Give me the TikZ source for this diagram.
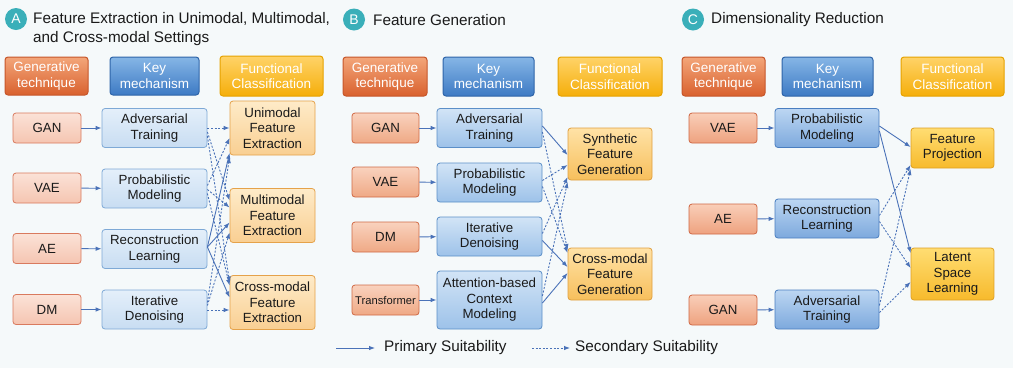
\documentclass[tikz,border=0pt]{standalone}
\usepackage{fontspec}
\setmainfont{Liberation Sans}
\usetikzlibrary{arrows.meta,calc}
\definecolor{bgc}{HTML}{F5F9FA}
\definecolor{arr}{HTML}{4A72B8}
\definecolor{teal}{HTML}{3AAFB9}
\definecolor{txt}{HTML}{1A1A1A}
\tikzset{
  box/.style={rounded corners=3pt, line width=0.8pt, align=center, inner sep=0pt, text=txt,
    font=\fontsize{13.3}{15.5}\selectfont},
  hdr/.style={box, text=white, line width=1pt, minimum height=38pt, font=\fontsize{13.5}{15.5}\selectfont},
  hO/.style={hdr, top color=hOt, bottom color=hOb, draw=hOd},
  hB/.style={hdr, top color=hBt, bottom color=hBb, draw=hBd},
  hY/.style={hdr, top color=hYt, bottom color=hYb, draw=hYd},
  techA/.style={box, minimum width=68pt, minimum height=30pt, top color=tAt, bottom color=tAb, draw=tAd},
  mechA/.style={box, minimum width=105pt, minimum height=39pt, top color=mAt, bottom color=mAb, draw=mAd},
  outA/.style={box, minimum width=85pt, minimum height=54pt, top color=oAt, bottom color=oAb, draw=oAd},
  techB/.style={box, minimum width=67pt, minimum height=30pt, top color=tBt, bottom color=tBb, draw=tBd},
  mechB/.style={box, minimum width=105pt, minimum height=39pt, top color=mBt, bottom color=mBb, draw=mBd},
  outB/.style={box, minimum width=84pt, minimum height=52pt, top color=oBt, bottom color=oBb, draw=oBd},
  techC/.style={box, minimum width=68pt, minimum height=30pt, top color=tCt, bottom color=tCb, draw=tCd},
  mechC/.style={box, minimum width=104pt, minimum height=39pt, top color=mCt, bottom color=mCb, draw=mCd},
  outC/.style={box, minimum width=83pt, minimum height=52pt, top color=oCt, bottom color=oCb, draw=oCd},
  badge/.style={circle, fill=teal, text=white, minimum size=22pt, inner sep=0pt, font=\fontsize{14}{14}\selectfont},
  ttl/.style={anchor=west, align=left, inner sep=0pt, text=txt, font=\fontsize{15.3}{18.5}\selectfont},
  pri/.style={draw=arr, line width=0.9pt, -{Latex[length=6pt,width=4.5pt]}},
  sec/.style={draw=arr, line width=0.9pt, dash pattern=on 2pt off 1.6pt, -{Latex[length=6pt,width=4.5pt]}},
  leg/.style={anchor=west, inner sep=0pt, text=txt, font=\fontsize{15.3}{17}\selectfont}
}
\definecolor{hOt}{HTML}{F3A67A}\definecolor{hOb}{HTML}{D9612E}\definecolor{hOd}{HTML}{C6562A}
\definecolor{hBt}{HTML}{86B6E6}\definecolor{hBb}{HTML}{3D7AC4}\definecolor{hBd}{HTML}{2E64A8}
\definecolor{hYt}{HTML}{FFD368}\definecolor{hYb}{HTML}{F5AE0A}\definecolor{hYd}{HTML}{E6A200}
\definecolor{tAt}{HTML}{FBE2D7}\definecolor{tAb}{HTML}{F5C5B1}\definecolor{tAd}{HTML}{D97A5E}
\definecolor{mAt}{HTML}{E4EFFA}\definecolor{mAb}{HTML}{C8DDF2}\definecolor{mAd}{HTML}{7EA9D6}
\definecolor{oAt}{HTML}{FEEBC8}\definecolor{oAb}{HTML}{F9CF92}\definecolor{oAd}{HTML}{E5A24A}
\definecolor{tBt}{HTML}{F9D2BE}\definecolor{tBb}{HTML}{EFA985}\definecolor{tBd}{HTML}{D06A45}
\definecolor{mBt}{HTML}{D2E4F6}\definecolor{mBb}{HTML}{9DC2E9}\definecolor{mBd}{HTML}{5B8FC8}
\definecolor{oBt}{HTML}{FFE2A6}\definecolor{oBb}{HTML}{F7BF5C}\definecolor{oBd}{HTML}{E0A040}
\definecolor{tCt}{HTML}{F9CEB8}\definecolor{tCb}{HTML}{EEA27F}\definecolor{tCd}{HTML}{CF6844}
\definecolor{mCt}{HTML}{BCD6F2}\definecolor{mCb}{HTML}{7DA9DD}\definecolor{mCd}{HTML}{4A7EC0}
\definecolor{oCt}{HTML}{FFDD72}\definecolor{oCb}{HTML}{F7BA2C}\definecolor{oCd}{HTML}{DFA022}
\begin{document}
\begin{tikzpicture}[x=1pt,y=-1pt]
\fill[bgc] (0,0) rectangle (1013,368);
\useasboundingbox (0,0) rectangle (1013,368);

% ---------------- Panel A ----------------
\node[badge] (bA) at (16,19) {A};
\node[ttl] (tA) at (33,29) {Feature Extraction in Unimodal, Multimodal,\\and Cross-modal Settings};
\node[hO, minimum width=83pt] (hA1) at (46.5,76) {Generative\\technique};
\node[hB, minimum width=89pt] (hA2) at (154.5,76) {Key\\mechanism};
\node[hY, minimum width=103pt, minimum height=40pt] (hA3) at (271.5,76) {Functional\\Classification};

\node[techA] (aGAN) at (47,128) {GAN};
\node[techA] (aVAE) at (47,188) {VAE};
\node[techA] (aAE)  at (47,248.5) {AE};
\node[techA] (aDM)  at (47,309.5) {DM};
\node[mechA] (aAdv) at (154.5,128) {Adversarial\\Training};
\node[mechA] (aPro) at (154.5,188.5) {Probabilistic\\Modeling};
\node[mechA] (aRec) at (154.5,249) {Reconstruction\\Learning};
\node[mechA] (aIte) at (154.5,309.5) {Iterative\\Denoising};
\node[outA] (aUni) at (272.5,128) {Unimodal\\Feature\\Extraction};
\node[outA] (aMul) at (272.5,215.5) {Multimodal\\Feature\\Extraction};
\node[outA] (aCro) at (272.5,302.5) {Cross-modal\\Feature\\Extraction};

\draw[pri] (aGAN) -- (aAdv);
\draw[pri] (aVAE) -- (aPro);
\draw[pri] (aAE) -- (aRec);
\draw[pri] (aDM) -- (aIte);

\draw[sec] (aAdv.east) -- (aUni.west);
\draw[sec] ($(aAdv.east)+(0,4)$) -- ($(aMul.west)+(0,-15)$);
\draw[sec] ($(aAdv.east)+(0,8)$) -- ($(aCro.west)+(0,-20)$);
\draw[sec] ($(aPro.east)+(0,-3)$) -- ($(aUni.west)+(0,10)$);
\draw[sec] ($(aPro.east)+(0,1)$) -- ($(aMul.west)+(0,-8)$);
\draw[sec] ($(aPro.east)+(0,5)$) -- ($(aCro.west)+(0,-17)$);
\draw[pri] ($(aRec.east)+(0,-2)$) -- ($(aUni.west)+(0,25)$);
\draw[pri] ($(aRec.east)+(0,-2)$) -- ($(aMul.west)+(0,7)$);
\draw[pri] ($(aRec.east)+(0,-2)$) -- ($(aCro.west)+(0,-5)$);
\draw[sec] ($(aIte.east)+(0,-7)$) -- ($(aUni.west)+(0,29)$);
\draw[sec] ($(aIte.east)+(0,-4)$) -- ($(aMul.west)+(0,17)$);
\draw[sec] ($(aIte.east)+(0,0.5)$) -- ($(aCro.west)+(0,7.5)$);

% ---------------- Panel B ----------------
\node[badge] (bB) at (354,19.5) {B};
\node[ttl] (tB) at (373,20) {Feature Generation};
\node[hO, minimum width=84pt, minimum height=39pt] (hB1) at (385,76.5) {Generative\\technique};
\node[hB, minimum width=91pt, minimum height=39pt] (hB2) at (488.5,76.5) {Key\\mechanism};
\node[hY, minimum width=104pt, minimum height=39pt] (hB3) at (610,76.5) {Functional\\Classification};

\node[techB] (bGAN) at (385.5,128) {GAN};
\node[techB] (bVAE) at (385.5,182) {VAE};
\node[techB] (bDM)  at (385.5,237) {DM};
\node[techB, font=\fontsize{11.2}{13}\selectfont] (bTra) at (385.5,300) {Transformer};
\node[mechB] (bAdv) at (489.5,128) {Adversarial\\Training};
\node[mechB] (bPro) at (489.5,182.5) {Probabilistic\\Modeling};
\node[mechB] (bIte) at (489.5,236.5) {Iterative\\Denoising};
\node[mechB, minimum height=58pt] (bAtt) at (489.5,300) {Attention-based\\Context\\Modeling};
\node[outB] (bSyn) at (610,154) {Synthetic\\Feature\\Generation};
\node[outB] (bCro) at (610,274) {Cross-modal\\Feature\\Generation};

\draw[pri] (bGAN) -- (bAdv);
\draw[pri] (bVAE) -- (bPro);
\draw[pri] (bDM) -- (bIte);
\draw[pri] (bTra) -- (bAtt);

\draw[pri] ($(bAdv.east)+(0,-2)$) -- ($(bSyn.west)+(0,1)$);
\draw[sec] ($(bAdv.east)+(0,4)$) -- ($(bCro.west)+(0,-24)$);
\draw[sec] ($(bPro.east)+(0,-2)$) -- ($(bSyn.west)+(0,11)$);
\draw[sec] ($(bPro.east)+(0,4)$) -- ($(bCro.west)+(0,-21)$);
\draw[sec] ($(bIte.east)+(0,-3)$) -- ($(bSyn.west)+(0,23)$);
\draw[pri] ($(bIte.east)+(0,4)$) -- ($(bCro.west)+(0,-7)$);
\draw[sec] ($(bAtt.east)+(0,-4)$) -- ($(bSyn.west)+(0,28)$);
\draw[pri] ($(bAtt.east)+(0,3)$) -- ($(bCro.west)+(0,-1)$);

% ---------------- Panel C ----------------
\node[badge] (bC) at (693,19.5) {C};
\node[ttl] (tC) at (711,20) {Dimensionality Reduction};
\node[hO, minimum width=83pt, minimum height=39pt] (hC1) at (723.5,76.5) {Generative\\technique};
\node[hB, minimum width=91pt, minimum height=39pt] (hC2) at (827.5,76.5) {Key\\mechanism};
\node[hY, minimum width=103pt, minimum height=39pt] (hC3) at (952.5,76.5) {Functional\\Classification};

\node[techC] (cVAE) at (723,128) {VAE};
\node[techC] (cAE)  at (723,219) {AE};
\node[techC] (cGAN) at (723,310) {GAN};
\node[mechC] (cPro) at (827,128) {Probabilistic\\Modeling};
\node[mechC] (cRec) at (827,218.5) {Reconstruction\\Learning};
\node[mechC] (cAdv) at (827,309.5) {Adversarial\\Training};
\node[outC, minimum height=40pt] (cFP) at (952.5,148) {Feature\\Projection};
\node[outC] (cLat) at (952.5,274) {Latent\\Space\\Learning};

\draw[pri] (cVAE) -- (cPro);
\draw[pri] (cAE) -- (cRec);
\draw[pri] (cGAN) -- (cAdv);

\draw[pri] ($(cPro.east)+(0,-2)$) -- ($(cFP.west)+(0,-1)$);
\draw[pri] ($(cPro.east)+(0,3)$) -- ($(cLat.west)+(0,-21)$);
\draw[sec] ($(cRec.east)+(0,-3)$) -- ($(cFP.west)+(0,17)$);
\draw[sec] ($(cRec.east)+(0,3)$) -- ($(cLat.west)+(0,-6)$);
\draw[sec] ($(cAdv.east)+(0,-4)$) -- ($(cFP.west)+(0,21)$);
\draw[sec] ($(cAdv.east)+(0,3)$) -- ($(cLat.west)+(0,8)$);

% ---------------- Legend ----------------
\coordinate (l1a) at (336,348);
\coordinate (l1b) at (375,348);
\coordinate (l2a) at (532,348);
\coordinate (l2b) at (570,348);
\draw[pri] (l1a) -- (l1b);
\node[leg] (lp) at (384,348) {Primary Suitability};
\draw[sec] (l2a) -- (l2b);
\node[leg] (ls) at (575,348) {Secondary Suitability};
\end{tikzpicture}
\end{document}
